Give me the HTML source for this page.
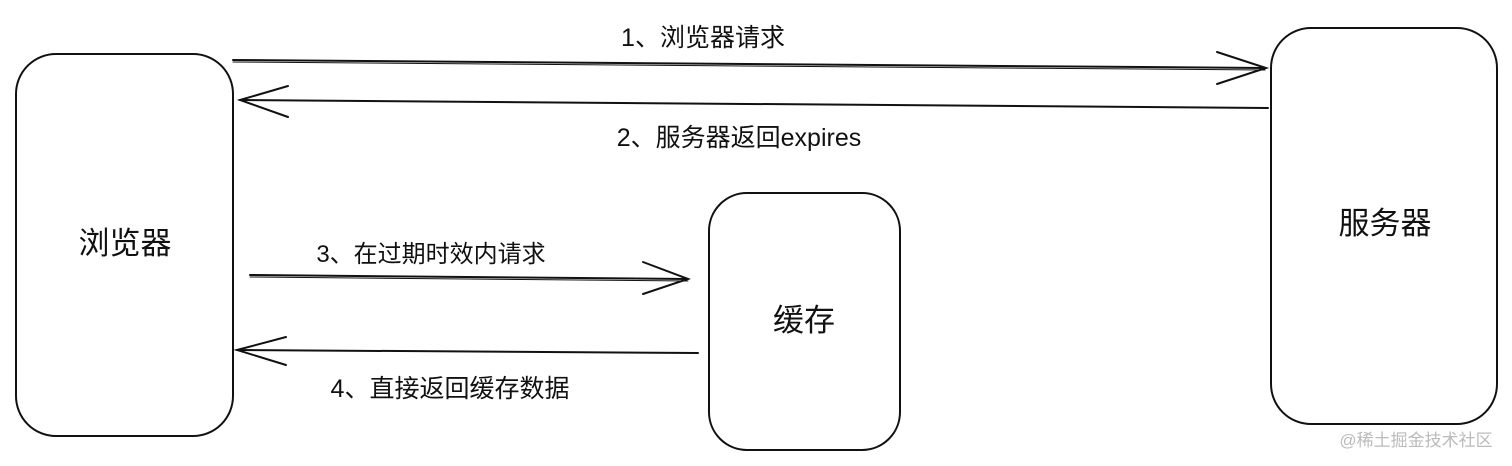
<!DOCTYPE html>
<html><head><meta charset="utf-8"><style>
html,body{margin:0;padding:0;background:#fff;}
svg{display:block;}
text{font-family:"Liberation Sans","Noto Sans CJK SC",sans-serif;fill:#111;}
</style></head><body>
<svg width="1512" height="466" viewBox="0 0 1512 466" xmlns="http://www.w3.org/2000/svg">
<g fill="none" stroke="#111" stroke-width="2" stroke-linecap="round">
<rect x="16" y="54" width="217" height="382" rx="40"/>
<rect x="1271" y="28" width="226" height="396" rx="40"/>
<rect x="709" y="193" width="191" height="257" rx="38"/>
<path d="M233 60 L1265 68"/><path d="M233 62 L1265 70" stroke-width="1"/>
<path d="M1217 52 L1266 68 L1217 84"/>
<path d="M1268 108 L240 100"/>
<path d="M288 86 L240 100 L288 117"/>
<path d="M250 275 L688 279"/><path d="M250 277 L688 281" stroke-width="1"/>
<path d="M643 262 L688 279 L643 294"/>
<path d="M698 353 L237 350"/>
<path d="M286 337 L237 350 L286 365"/>
</g>
<text x="703" y="46" font-size="25" text-anchor="middle">1、浏览器请求</text>
<text x="739" y="146" font-size="25" text-anchor="middle">2、服务器返回expires</text>
<text x="431" y="262" font-size="24" text-anchor="middle">3、在过期时效内请求</text>
<text x="450" y="397" font-size="25" text-anchor="middle">4、直接返回缓存数据</text>
<text x="125" y="254" font-size="31" text-anchor="middle">浏览器</text>
<text x="1385" y="234" font-size="31" text-anchor="middle">服务器</text>
<text x="804" y="331" font-size="31" text-anchor="middle">缓存</text>
<text x="1416" y="446" font-size="17" text-anchor="middle" style="fill:#bbb">@稀土掘金技术社区</text>
</svg>
</body></html>
